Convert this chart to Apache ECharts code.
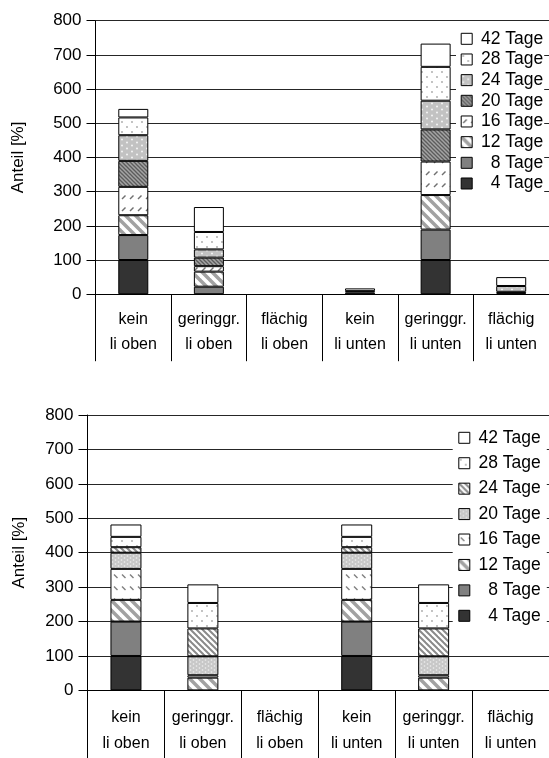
<!DOCTYPE html>
<html>
<head>
<meta charset="utf-8">
<script src="https://cdn.jsdelivr.net/npm/echarts@6/dist/echarts.min.js"></script>
<style>
html,body{margin:0;padding:0;background:#fff;}
#a{position:absolute;left:0;top:0;width:549px;height:379px;}
#b{position:absolute;left:0;top:379px;width:549px;height:379px;}
</style>
</head>
<body>
<div id="a"></div>
<div id="b"></div>
<script>
// ---- data ----
const conditions = ['kein', 'geringgr.', 'flächig', 'kein', 'geringgr.', 'flächig'];
const positions = ['li oben', 'li oben', 'li oben', 'li unten', 'li unten', 'li unten'];
const seriesNames = ['4 Tage', '8 Tage', '12 Tage', '16 Tage', '20 Tage', '24 Tage', '28 Tage', '42 Tage'];
const yTicks = [0, 100, 200, 300, 400, 500, 600, 700, 800];

// top chart: values per series, across the six categories
const top4  = [100, 0, 0, 0, 100, 0];
const top8  = [73, 22, 0, 5, 89, 3];
const top12 = [58, 44, 0, 0, 101, 0];
const top16 = [83, 16, 0, 0, 98, 0];
const top20 = [76, 25, 0, 4, 94, 4];
const top24 = [75, 24, 0, 0, 84, 17];
const top28 = [52, 51, 0, 0, 99, 0];
const top42 = [25, 73, 0, 8, 68, 26];

// bottom chart
const bot4  = [100, 0, 0, 100, 0, 0];
const bot8  = [100, 0, 0, 100, 0, 0];
const bot12 = [63, 37, 0, 63, 37, 0];
const bot16 = [90, 7, 0, 90, 7, 0];
const bot20 = [47, 55, 0, 47, 55, 0];
const bot24 = [16, 81, 0, 16, 81, 0];
const bot28 = [30, 74, 0, 30, 74, 0];
const bot42 = [36, 54, 0, 36, 54, 0];

const topData = [top4, top8, top12, top16, top20, top24, top28, top42];
const botData = [bot4, bot8, bot12, bot16, bot20, bot24, bot28, bot42];

// ---- patterns ----
function mk(w, h, draw) {
  const c = document.createElement('canvas');
  c.width = w; c.height = h;
  const g = c.getContext('2d');
  draw(g, w, h);
  return { image: c, repeat: 'repeat' };
}
function solid(col) { return col; }
function back(g, w, h, col) { g.fillStyle = col; g.fillRect(0, 0, w, h); }
function diagBack(g, s, col, lw) { // "\" direction lines, seamless in s x s tile
  g.strokeStyle = col; g.lineWidth = lw;
  for (let k = -1; k <= 1; k++) {
    g.beginPath(); g.moveTo(k * s - 1, -1); g.lineTo(k * s + s + 1, s + 1); g.stroke();
  }
}
function dots(g, pts, r, col) {
  g.fillStyle = col;
  pts.forEach(p => { g.beginPath(); g.arc(p[0], p[1], r, 0, Math.PI * 2); g.fill(); });
}
const pWide = mk(10, 10, (g, w, h) => { back(g, w, h, '#fff'); diagBack(g, 10, '#a2a2a2', 3.5); });
const pDashUp = mk(8, 12, (g, w, h) => {
  back(g, w, h, '#fff');
  g.strokeStyle = '#707070'; g.lineWidth = 1.4;
  g.beginPath(); g.moveTo(2, 7); g.lineTo(5.5, 3.5); g.stroke();
});
const pDashDown = mk(8, 12, (g, w, h) => {
  back(g, w, h, '#fff');
  g.strokeStyle = '#808080'; g.lineWidth = 1.4;
  g.beginPath(); g.moveTo(2, 3.5); g.lineTo(5.5, 7); g.stroke();
});
const pDarkDiag = mk(4, 4, (g, w, h) => { back(g, w, h, '#a4a4a4'); diagBack(g, 4, '#5c5c5c', 1.3); });
const pGreyDots = mk(10, 6, (g, w, h) => { back(g, w, h, '#c2c2c2'); dots(g, [[2, 1.5], [7, 4.5]], 1, '#f4f4f4'); });
const pFineDots = mk(6, 4, (g, w, h) => { back(g, w, h, '#c8c8c8'); dots(g, [[1.5, 1], [4.5, 3]], 0.8, '#f0f0f0'); });
const pSparse = mk(10, 10, (g, w, h) => { back(g, w, h, '#fff'); dots(g, [[2, 2], [7, 7]], 0.9, '#a8a8a8'); });
const pNarrow = mk(6, 6, (g, w, h) => { back(g, w, h, '#fff'); diagBack(g, 6, '#8a8a8a', 2); });

const topFills = ['#333333', '#808080', pWide, pDashUp, pDarkDiag, pGreyDots, pSparse, '#ffffff'];
const botFills = ['#333333', '#808080', pWide, pDashDown, pFineDots, pNarrow, pSparse, '#ffffff'];

const FONT = 'Liberation Sans, Arial, Helvetica, sans-serif';

function build(cfg) {
  const cats = conditions.map((c, i) => c + '\n' + positions[i]);
  return {
    animation: false,
    textStyle: { fontFamily: FONT, color: '#000' },
    grid: { left: cfg.left, top: cfg.top, width: cfg.width, height: cfg.height },
    legend: {
      orient: 'vertical',
      left: cfg.legLeft, top: cfg.legTop,
      data: seriesNames.slice().reverse(),
      icon: 'rect', itemWidth: 11, itemHeight: 11, itemGap: cfg.legGap,
      backgroundColor: '#fff', padding: cfg.legPad,
      selectedMode: false,
      itemStyle: { borderColor: '#000', borderWidth: 1 },
      formatter: n => '{a|' + n + '}',
      textStyle: {
        fontFamily: FONT, color: '#000',
        rich: { a: { width: 66, align: 'right', fontSize: 17.5, lineHeight: 17, fontFamily: FONT, color: '#000' } }
      }
    },
    xAxis: {
      type: 'category', data: cats,
      axisLine: { lineStyle: { color: '#000', width: 1 } },
      axisTick: { show: true, interval: 0, length: cfg.tickLen, lineStyle: { color: '#000' } },
      axisLabel: { interval: 0, fontSize: 16, lineHeight: cfg.lblLH, margin: cfg.lblMargin, color: '#000', fontFamily: FONT },
      splitLine: { show: false }
    },
    yAxis: {
      type: 'value', min: yTicks[0], max: yTicks[yTicks.length - 1], interval: yTicks[1] - yTicks[0],
      name: 'Anteil [%]', nameLocation: 'middle', nameRotate: 90, nameGap: cfg.nameGap,
      nameTextStyle: { fontSize: 17, color: '#000', fontFamily: FONT },
      axisLine: { show: true, lineStyle: { color: '#000', width: 1 } },
      axisTick: { show: true, length: 9, lineStyle: { color: '#000' } },
      axisLabel: { fontSize: 17, margin: 14, color: '#000', fontFamily: FONT },
      splitLine: { show: true, lineStyle: { color: '#262626', width: 1 } }
    },
    series: seriesNames.map((n, i) => ({
      name: n, type: 'bar', stack: 'all', barWidth: cfg.barW,
      itemStyle: { color: cfg.fills[i], borderColor: '#000', borderWidth: 1 },
      emphasis: { disabled: true },
      data: cfg.data[i].map(v => v === 0 ? '-' : v)
    }))
  };
}

const ca = echarts.init(document.getElementById('a'));
ca.setOption(build({
  left: 95.5, top: 20.7, width: 457, height: 273.5,
  legLeft: 456, legTop: 27.8, legGap: 2.67, legPad: [2, 1, 2, 4.7],
  tickLen: 67, lblLH: 25, lblMargin: 13, nameGap: 69, barW: 30,
  fills: topFills, data: topData
}));

const cb = echarts.init(document.getElementById('b'));
cb.setOption(build({
  left: 87.5, top: 36, width: 465, height: 275.4,
  legLeft: 452.7, legTop: 47.8, legGap: 7.43, legPad: [2, 6, 2, 5.6],
  tickLen: 75, lblLH: 26, lblMargin: 13.8, nameGap: 60, barW: 31,
  fills: botFills, data: botData
}));
</script>
</body>
</html>
